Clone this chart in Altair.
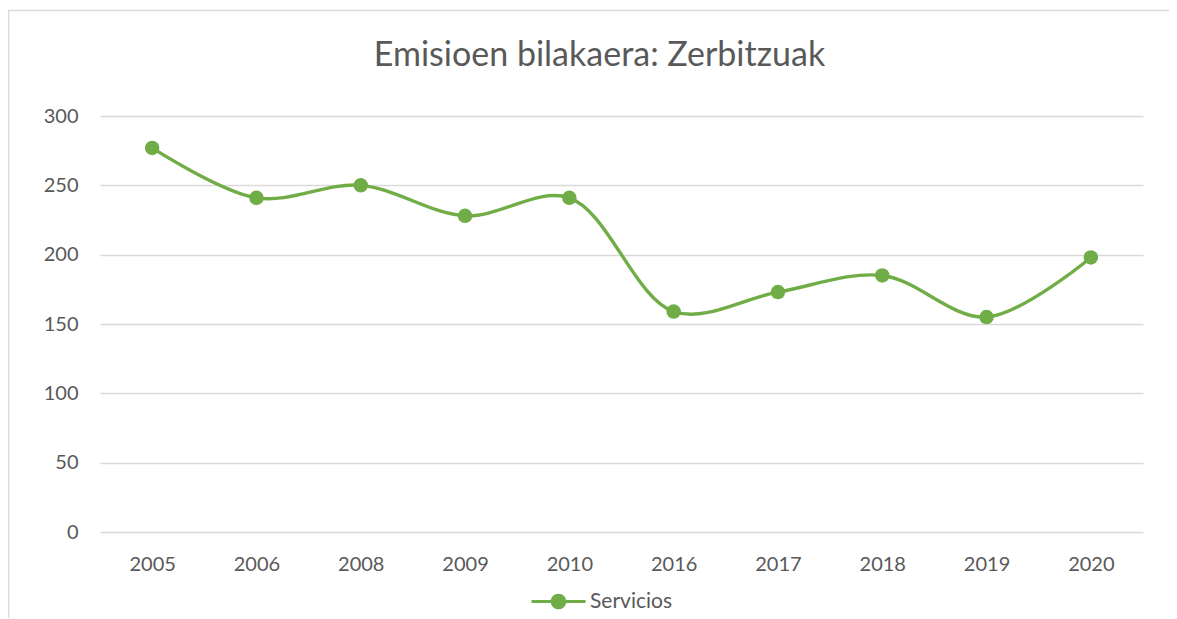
import altair as alt
import pandas as pd

years = ["2005", "2006", "2008", "2009", "2010", "2016", "2017", "2018", "2019", "2020"]
values = [277, 241, 250, 228, 241, 159, 173, 185, 155, 198]
series = ["Servicios"] * len(years)

df = pd.DataFrame({"year": years, "value": values, "series": series})

GREEN = "#70AD47"
GREY_TXT = "#595959"
FONT = "Lato"

W, H = 1043, 416
PL, PT, PR, PB = 92, 108, 26, 86

legend_path = ("M-2,-0.12 L2,-0.12 L2,0.12 L-2,0.12 Z "
               "M-0.58,0 A0.58,0.58 0 1,1 0.58,0 A0.58,0.58 0 1,1 -0.58,0 Z")

color = alt.Color(
    "series:N",
    scale=alt.Scale(domain=["Servicios"], range=[GREEN]),
    legend=alt.Legend(
        title=None, orient="none", legendX=445, legendY=472,
        symbolType=legend_path, symbolSize=729, symbolStrokeWidth=0,
        symbolFillColor=GREEN, symbolOpacity=1,
        labelFont=FONT, labelFontSize=21, labelColor=GREY_TXT, labelOffset=18,
    ),
)

x = alt.X("year:N", sort=years, title=None,
          scale=alt.Scale(padding=0.5),
          axis=alt.Axis(labelAngle=0, labelFont=FONT, labelFontSize=20,
                        labelColor=GREY_TXT, labelPadding=22, ticks=False,
                        domain=False, grid=False))
y = alt.Y("value:Q", title=None,
          scale=alt.Scale(domain=[0, 300], nice=False),
          axis=alt.Axis(values=[0, 50, 100, 150, 200, 250, 300], labelFont=FONT,
                        labelFontSize=20, labelColor=GREY_TXT, labelPadding=22,
                        ticks=False, domain=False, gridColor="#D9D9D9",
                        gridWidth=1.3))

base = alt.Chart(df)
line = base.mark_line(strokeWidth=3.4, interpolate="catmull-rom").encode(x=x, y=y, color=color)
pts = base.mark_point(filled=True, size=210, opacity=1).encode(x=x, y=y, color=color)

frame_top = alt.Chart(pd.DataFrame({"a": [0]})).mark_rule(color="#D9D9D9", strokeWidth=1.3).encode(
    x=alt.value(-PL), x2=alt.value(W + PR), y=alt.value(-PT + 2.5))
frame_left = alt.Chart(pd.DataFrame({"a": [0]})).mark_rule(color="#D9D9D9", strokeWidth=1.3).encode(
    x=alt.value(-PL + 0.7), y=alt.value(-PT + 2), y2=alt.value(H + PB))

chart = alt.layer(frame_top, frame_left, line, pts).properties(
    width=W, height=H,
    background="white",
    title=alt.Title("Emisioen bilakaera: Zerbitzuak", font=FONT, fontSize=34,
                    fontWeight="normal", color=GREY_TXT, anchor="middle",
                    dx=-22, offset=0, dy=64),
    autosize=alt.AutoSizeParams(type="none"),
    padding={"left": PL, "top": PT, "right": PR, "bottom": PB},
).configure_view(stroke="transparent", strokeWidth=0)

chart.save("out.html", embed_options={"renderer": "svg", "actions": False})
